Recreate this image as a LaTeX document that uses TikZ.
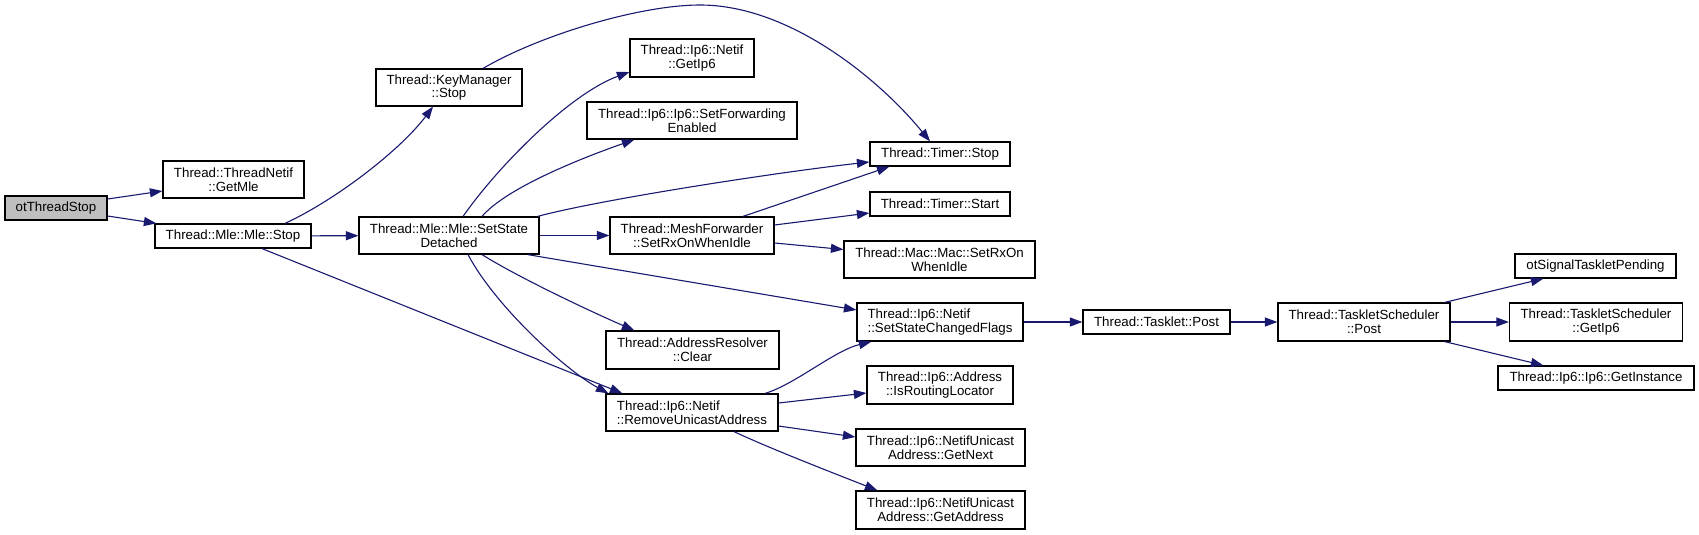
\documentclass[tikz,border=0pt]{standalone}
\usepackage{fontspec}
\setmainfont{Liberation Sans}
\usetikzlibrary{arrows.meta, calc}
\definecolor{edgeblue}{HTML}{191970}
\definecolor{rootgray}{HTML}{BFBFBF}

\begin{document}
\begin{tikzpicture}[
  x=1pt, y=-1pt,
  every node/.style={font=\fontsize{13.3}{13.6}\selectfont},
  fn/.style 2 args={draw=black, line width=1.2pt, fill=white, inner sep=0pt, align=center, minimum width=#1pt, minimum height=#2pt},
  rootfn/.style={fill=rootgray},
  call/.style={-{Triangle[length=12.5pt, width=9pt]}, edgeblue, line width=1.1pt},
]
  \path[use as bounding box] (0,0) rectangle (1699,535);
  \node[fn={102}{24}, rootfn] (root) at (56,208) {otThreadStop};
  \node[fn={141}{37}] (getmle)  at (233.5,179.5) {Thread::ThreadNetif\\::GetMle};
  \node[fn={156}{24}] (mlestop) at (233,236)     {Thread::Mle::Mle::Stop};
  \node[fn={146}{37}] (keystop) at (449,87.5)    {Thread::KeyManager\\::Stop};
  \node[fn={180}{37}] (detach)  at (449,235.5)   {Thread::Mle::Mle::SetState\\Detached};
  \node[fn={124}{38}] (getip6)  at (692,58)      {Thread::Ip6::Netif\\::GetIp6};
  \node[fn={210}{37}] (fwd)     at (692,120.5)   {Thread::Ip6::Ip6::SetForwarding\\Enabled};
  \node[fn={164}{37}] (mesh)    at (692,235.5)   {Thread::MeshForwarder\\::SetRxOnWhenIdle};
  \node[fn={173}{38}] (clear)   at (692.5,350)   {Thread::AddressResolver\\::Clear};
  \node[fn={172}{37}, align=left] (remove) at (692,412.5) {Thread::Ip6::Netif\\::RemoveUnicastAddress};
  \node[fn={140}{24}] (tstop)   at (940,154)     {Thread::Timer::Stop};
  \node[fn={140}{24}] (tstart)  at (940,204)     {Thread::Timer::Start};
  \node[fn={191}{37}] (macidle) at (939.5,259.5) {Thread::Mac::Mac::SetRxOn\\WhenIdle};
  \node[fn={166}{38}, align=left] (flags) at (940,322) {Thread::Ip6::Netif\\::SetStateChangedFlags};
  \node[fn={146}{38}] (rloc)    at (940,385)     {Thread::Ip6::Address\\::IsRoutingLocator};
  \node[fn={169}{37}] (getnext) at (940.5,447.5) {Thread::Ip6::NetifUnicast\\Address::GetNext};
  \node[fn={169}{38}] (getaddr) at (940.5,510)   {Thread::Ip6::NetifUnicast\\Address::GetAddress};
  \node[fn={147}{24}] (tpost)   at (1156.5,322)  {Thread::Tasklet::Post};
  \node[fn={172}{38}] (spost)   at (1364,322)    {Thread::TaskletScheduler\\::Post};
  \node[fn={161}{24}] (signal)  at (1595.5,266)  {otSignalTaskletPending};
  \node[fn={173}{38}] (sgetip6) at (1596,322)    {Thread::TaskletScheduler\\::GetIp6};
  \node[fn={196}{24}] (inst)    at (1596,378)    {Thread::Ip6::Ip6::GetInstance};
  % calls
  \foreach \a/\b in {mlestop/detach, detach/mesh, flags/tpost, tpost/spost, spost/sgetip6}\draw[call] (\a) -- (\b);
  \draw[call] ($(root.east)+(0,-9)$) -- ($(getmle.west)+(0,11.5)$);
  \draw[call] ($(root.east)+(0,8)$) -- ($(mlestop.north west)+(2,0)$);
  \draw[call] ($(mlestop.north)+(52,0)$) .. controls +(50,-23) and +(-33,44) .. ($(keystop.south)+(-16,0)$);
  \draw[call] ($(mlestop.south)+(29,0)$) -- ($(remove.north west)+(17,0)$);
  \draw[call] ($(keystop.north)+(34,0)$) .. controls (540,35) and (640,5) .. (700,5)
        .. controls (790,5) and (880,80) .. ($(tstop.north)+(-10,0)$);
  \draw[call] ($(detach.north)+(14,0)$) .. controls +(35,-50) and +(-60,22) .. ($(getip6.west)+(0,14)$);
  \draw[call] ($(detach.north)+(33,0)$) .. controls +(23,-27) and +(-60,21) .. ($(fwd.south west)+(48,0)$);
  \draw[call] ($(detach.north east)+(-2,0)$) .. controls +(63,-17) and +(-90,10) .. ($(tstop.west)+(0,8)$);
  \draw[call] ($(detach.south east)+(-12,0)$) -- ($(flags.west)+(0,-12)$);
  \draw[call] ($(detach.south)+(33,0)$) .. controls +(40,25) and +(-35,-15) .. ($(clear.north west)+(29,0)$);
  \draw[call] ($(detach.south)+(19,0)$) .. controls +(27,51) and +(-44,-24) .. ($(remove.north west)+(3,0)$);
  \draw[call] ($(mesh.north)+(51,0)$) -- ($(tstop.south west)+(20,0)$);
  \draw[call] ($(mesh.east)+(0,-10.5)$) -- ($(tstart.west)+(0,9)$);
  \draw[call] ($(mesh.east)+(0,7.5)$) -- ($(macidle.west)+(0,-10)$);
  \draw[call] ($(remove.north)+(73,0)$) .. controls +(30,-9) and +(-37,9) .. ($(flags.south west)+(15,0)$);
  \draw[call] ($(remove.east)+(0,-9.5)$) -- ($(rloc.west)+(0,8)$);
  \draw[call] ($(remove.east)+(0,13.5)$) -- ($(getnext.west)+(0,-10.5)$);
  \draw[call] ($(remove.south)+(42,0)$) .. controls +(36,17) and +(-38,-15) .. ($(getaddr.north west)+(22,0)$);
  \draw[call] ($(spost.north east)+(-6,0)$) -- ($(signal.south west)+(29,0)$);
  \draw[call] ($(spost.south east)+(-6,0)$) -- ($(inst.north west)+(46,0)$);
\end{tikzpicture}
\end{document}
